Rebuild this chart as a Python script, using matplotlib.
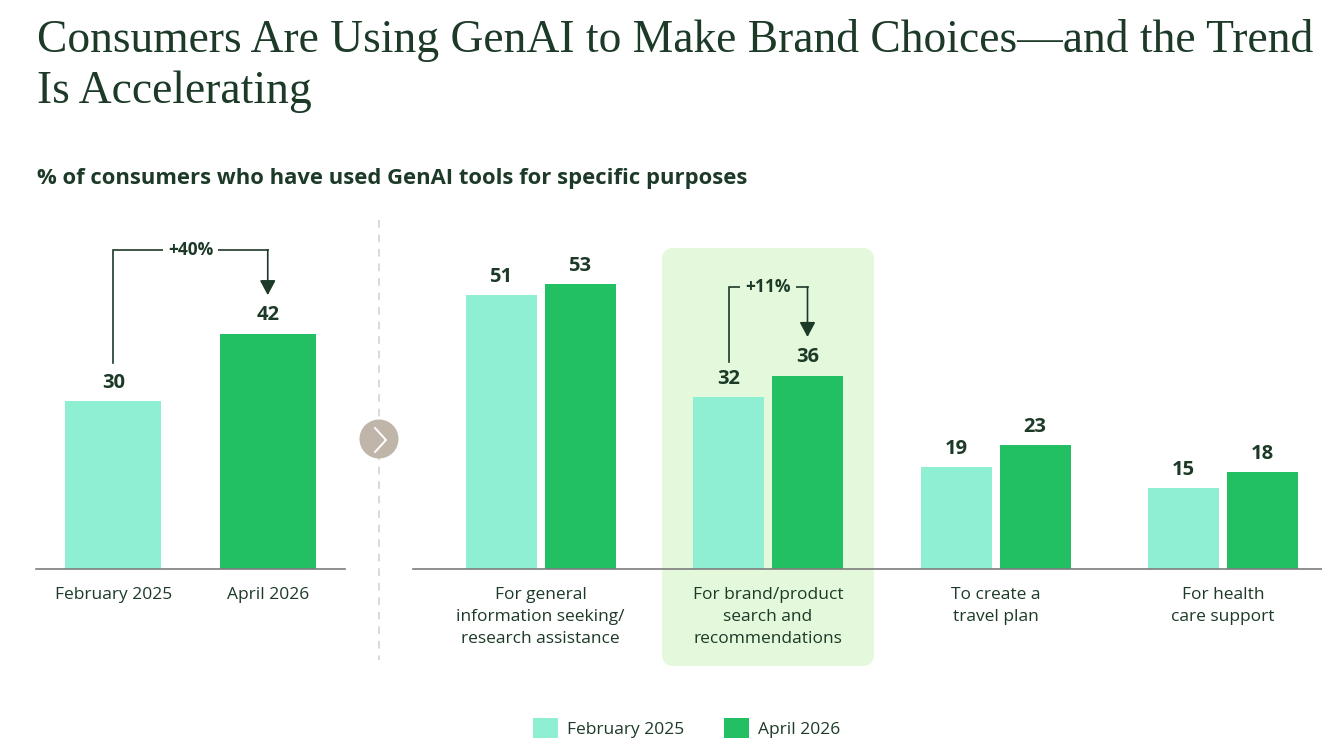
import matplotlib
matplotlib.use("Agg")
import matplotlib.pyplot as plt
import numpy as np
from matplotlib.patches import FancyBboxPatch, Circle
from matplotlib.lines import Line2D
from matplotlib import transforms as mtransforms
from matplotlib import font_manager as fm

# ---------------- data ----------------
overall_periods = ["February 2025", "April 2026"]
overall_values = [30, 42]
overall_change = "+40%"

categories = [
    "For general\ninformation seeking/\nresearch assistance",
    "For brand/product\nsearch and\nrecommendations",
    "To create a\ntravel plan",
    "For health\ncare support",
]
feb_2025 = [51, 32, 19, 15]
apr_2026 = [53, 36, 23, 18]
highlight_index = 1
highlight_change = "+11%"

series_names = ["February 2025", "April 2026"]

title_lines = ["Consumers Are Using GenAI to Make Brand Choices\u2014and the Trend",
               "Is Accelerating"]
subtitle = "% of consumers who have used GenAI tools for specific purposes"

# ---------------- style ----------------
W, H = 1322, 755
LIGHT = "#8eefd3"
DARK = "#22c062"
TEXT = "#1c3a27"
BOXC = "#e4f9dc"
SERIF = ["Liberation Serif", "DejaVu Serif"]

# pick a sans family that has a real bold face
def has_bold(fam):
    for f in fm.fontManager.ttflist:
        if f.name == fam and (f.weight in ("bold", 700) or (isinstance(f.weight, int) and f.weight >= 600)):
            return True
    return False

sans_main = "Noto Sans"
for cand in ["Noto Sans", "Open Sans", "Lato", "Roboto", "DejaVu Sans"]:
    if has_bold(cand):
        sans_main = cand
        break
SANS = [sans_main, "DejaVu Sans"]
plt.rcParams["font.family"] = SANS

fig = plt.figure(figsize=(W / 100, H / 100), dpi=100)
PX = mtransforms.Affine2D().scale(1 / W, -1 / H).translate(0, 1) + fig.transFigure


def fr(x0, y_top, x1, y_bot):
    return [x0 / W, 1 - y_bot / H, (x1 - x0) / W, (y_bot - y_top) / H]


BASE_Y = 569
TOP_Y = 200
axL = fig.add_axes(fr(36, TOP_Y, 345, BASE_Y))
axR = fig.add_axes(fr(413, TOP_Y, 1322, BASE_Y))

for ax in (axL, axR):
    ax.patch.set_visible(False)
    for s in ("top", "right", "left"):
        ax.spines[s].set_visible(False)
    ax.spines["bottom"].set_color("#7d7d7d")
    ax.spines["bottom"].set_linewidth(1.2)
    ax.set_yticks([])
    ax.tick_params(axis="x", length=0, pad=13, labelsize=12.5, labelcolor=TEXT)

# left panel scale: 5.6 px per unit
axL.set_ylim(0, (BASE_Y - TOP_Y) / 5.6)
axL.set_xlim(-0.5, 1.5)
xl = np.arange(len(overall_values))
bl = axL.bar(xl, overall_values, width=0.62, color=[LIGHT, DARK], edgecolor="none", zorder=2)
axL.bar_label(bl, padding=6, fontsize=14.5, fontweight="bold", color=TEXT)
axL.set_xticks(xl, overall_periods)

# right panel scale: 5.37 px per unit, groups ~227.5 px apart
axR.set_ylim(0, (BASE_Y - TOP_Y) / 5.37)
step = 227.5
lo = -(540.5 - 413) / step
axR.set_xlim(lo, lo + (1322 - 413) / step)
xr = np.arange(len(categories))
off, bw = 39.5 / step, 71 / step
b1 = axR.bar(xr - off, feb_2025, width=bw, color=LIGHT, edgecolor="none", zorder=2,
             label=series_names[0])
b2 = axR.bar(xr + off, apr_2026, width=bw, color=DARK, edgecolor="none", zorder=2,
             label=series_names[1])
axR.bar_label(b1, padding=6, fontsize=14.5, fontweight="bold", color=TEXT)
axR.bar_label(b2, padding=6, fontsize=14.5, fontweight="bold", color=TEXT)
axR.set_xticks(xr, categories)
for t in axR.get_xticklabels():
    t.set_linespacing(1.5)

# highlight box behind the brand/product group
cx_disp = axR.transData.transform((highlight_index, 0))[0]
fig_h_disp = fig.bbox.height
box_top, box_bot = 248, 666
hb = FancyBboxPatch((cx_disp - 106 + 12, fig_h_disp - box_bot + 12), 212 - 24, box_bot - box_top - 24,
                    boxstyle="round,pad=12,rounding_size=12", facecolor=BOXC, edgecolor="none",
                    transform=mtransforms.IdentityTransform(), zorder=0.5, clip_on=False)
axR.add_patch(hb)


def bracket(ax, x0, x1, y_start, y_top, y_tip, label, bg):
    ax.plot([x0, x0, x1], [y_start, y_top, y_top], color=TEXT, lw=1.2, zorder=3,
            solid_joinstyle="miter", clip_on=False)
    ax.annotate("", xy=(x1, y_tip), xytext=(x1, y_top),
                arrowprops=dict(arrowstyle="-|>,head_length=0.45,head_width=0.24",
                                color=TEXT, lw=1.2, shrinkA=0, shrinkB=0,
                                mutation_scale=20), zorder=3, annotation_clip=False)
    ax.text((x0 + x1) / 2, y_top, label, ha="center", va="center", fontsize=12.5,
            fontweight="bold", color=TEXT, zorder=4,
            bbox=dict(boxstyle="square,pad=0.3", facecolor=bg, edgecolor="none"))


# +40% annotation
bracket(axL, xl[0], xl[1], overall_values[0] + 6.8, max(overall_values) + 15.0,
        overall_values[1] + 6.9, overall_change, "white")
# +11% annotation
i = highlight_index
bracket(axR, i - off, i + off, feb_2025[i] + 6.6, apr_2026[i] + 16.5,
        apr_2026[i] + 7.2, highlight_change, BOXC)

# divider with chevron circle
fig.add_artist(Line2D([379, 379], [220, 660], transform=PX, color="#d6cec6", lw=1.1,
                      linestyle=(0, (5, 4.5)), zorder=1))
fig.add_artist(Circle((379, 439), 19.5, transform=PX, facecolor="#bfb5a8",
                      edgecolor="none", zorder=2))
fig.add_artist(Line2D([375, 386, 375], [428, 440, 452], transform=PX, color="white",
                      lw=1.4, zorder=3, solid_joinstyle="miter"))

# titles
fig.text(37 / W, 1 - 52 / H, title_lines[0], family=SERIF, fontsize=32.8, color=TEXT,
         va="baseline", ha="left")
fig.text(37 / W, 1 - 103 / H, title_lines[1], family=SERIF, fontsize=32.8, color=TEXT,
         va="baseline", ha="left")
fig.text(37 / W, 1 - 184 / H, subtitle, fontsize=15.8, fontweight="bold", color=TEXT,
         va="baseline", ha="left")

# legend
fig.legend(handles=[b1, b2], labels=series_names, loc="center",
           bbox_to_anchor=(687 / W, 1 - 728 / H), ncol=2, frameon=False, fontsize=12.5,
           handlelength=1.4, handleheight=1.4, handletextpad=0.55, columnspacing=2.3,
           labelcolor=TEXT)

fig.savefig("out.png", dpi=100, facecolor="white")
